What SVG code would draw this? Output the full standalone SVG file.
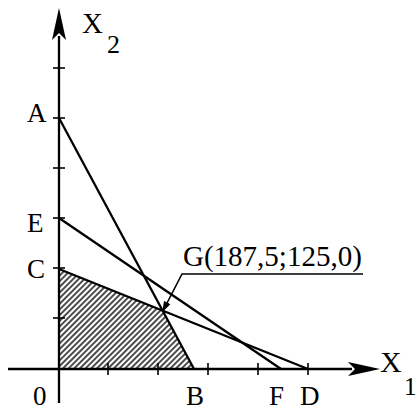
<svg xmlns="http://www.w3.org/2000/svg" width="417" height="410" viewBox="0 0 417 410">
<style>
.ln{stroke:#000;stroke-width:2.3;fill:none;stroke-linecap:butt}
.tk{stroke:#000;stroke-width:1.6}
.lb{font-family:"Liberation Serif","Times New Roman",serif;fill:#000;font-size:27px}
</style>
<defs>
<pattern id="hatch" patternUnits="userSpaceOnUse" width="4" height="10" patternTransform="rotate(45)">
<line x1="1" y1="0" x2="1" y2="10" stroke="#000" stroke-width="1.4"/>
</pattern>
</defs>
<rect width="417" height="410" fill="#fff"/>
<g id="region">
<polygon points="59,369 59,269 162.7,310.8 194,369" fill="url(#hatch)"/>
</g>
<g id="axes">
<line class="ln" x1="59" y1="403" x2="59" y2="36"/>
<path d="M59,8 L66,40 L59,33 L52,40 Z" fill="#000"/>
<line class="ln" x1="8" y1="369" x2="352" y2="369"/>
<path d="M380,369 L348,362 L355,369 L348,376 Z" fill="#000"/>
<g class="tk">
<line x1="53" y1="68" x2="65" y2="68"/>
<line x1="53" y1="118" x2="65" y2="118"/>
<line x1="53" y1="168" x2="65" y2="168"/>
<line x1="53" y1="218" x2="65" y2="218"/>
<line x1="53" y1="268" x2="65" y2="268"/>
<line x1="53" y1="318" x2="65" y2="318"/>
<line x1="108" y1="363" x2="108" y2="375"/>
<line x1="158" y1="363" x2="158" y2="375"/>
<line x1="208" y1="363" x2="208" y2="375"/>
<line x1="258" y1="363" x2="258" y2="375"/>
<line x1="308" y1="363" x2="308" y2="375"/>
</g>
</g>
<g id="connectors">
<line class="ln" x1="59" y1="118" x2="194" y2="369"/>
<line class="ln" x1="59" y1="218" x2="281" y2="369"/>
<line class="ln" x1="59" y1="269" x2="308" y2="369"/>
<polyline points="363,274 182,274 166,305" fill="none" stroke="#000" stroke-width="1.6"/>
<path d="M163,311 L169.8,304.4 L164.4,301.6 Z" fill="#000" stroke="#000" stroke-width="1"/>
</g>
<g id="labels">
<text class="lb" x="82" y="33" style="font-size:29px">X</text>
<text class="lb" x="107" y="53" style="font-size:26px">2</text>
<text class="lb" x="380" y="372" style="font-size:30px">X</text>
<text class="lb" x="404" y="395" style="font-size:25px">1</text>
<text class="lb" x="27" y="122">A</text>
<text class="lb" x="27" y="232">E</text>
<text class="lb" x="27" y="278">C</text>
<text class="lb" x="33" y="405">0</text>
<text class="lb" x="186" y="405">B</text>
<text class="lb" x="269" y="405">F</text>
<text class="lb" x="300" y="405">D</text>
<text class="lb" x="183" y="266" style="font-size:29px">G(187,5;125,0)</text>
</g>
</svg>
